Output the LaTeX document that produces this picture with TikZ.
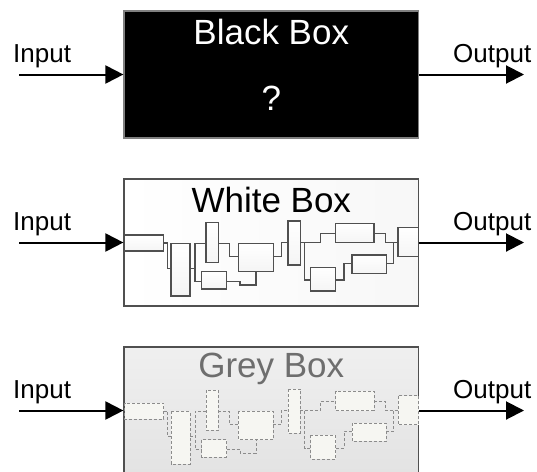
\documentclass[tikz,border=0pt]{standalone}
\usepackage{fontspec}
\setmainfont{Liberation Sans}
\usetikzlibrary{arrows.meta}
\definecolor{boxedge}{HTML}{505050}
\definecolor{greytext}{HTML}{6E6E6E}
\definecolor{greyline}{HTML}{8C8C8C}
\definecolor{cellfill}{HTML}{F6F6F2}
\tikzset{
  lbl/.style={anchor=base west, inner sep=0pt, font=\fontsize{26}{26}\selectfont},
  ttl/.style={anchor=base, inner sep=0pt, font=\fontsize{35}{35}\selectfont},
  bigbox/.style={rectangle, minimum width=294.5pt, minimum height=127pt, inner sep=0pt, line width=1.2pt},
  arr/.style={line width=2pt, -{Triangle[length=18pt,width=18pt]}},
  cell/.style={draw=boxedge, line width=1.1pt, top color=white, bottom color=gray!8},
  wire/.style={draw=boxedge, line width=1.1pt},
}
\newcommand\mycircuit{%
  \path[cell] (124.5,235) rectangle (163.7,251);
  \path[cell] (171,243.3) rectangle (190,296);
  \path[cell] (206,222.3) rectangle (218.3,262.3);
  \path[cell] (201.7,271.7) rectangle (226.7,289);
  \path[cell] (238.3,243.3) rectangle (273.3,271.7);
  \path[cell] (288,221) rectangle (300.3,265);
  \path[cell] (335.7,223.3) rectangle (374,242.7);
  \path[cell] (310.7,267.3) rectangle (335.7,291);
  \path[cell] (352,255) rectangle (386.3,273.3);
  \path[cell] (398,227.7) rectangle (418.7,256.7);
  \path[wire] (163.7,243) -- (167.7,243) -- (167.7,268.3) -- (171,268.3);
  \path[wire] (190,268.3) -- (195,268.3);
  \path[wire] (206,243.3) -- (195,243.3) -- (195,281.7) -- (201.7,281.7);
  \path[wire] (218.3,243.3) -- (229.3,243.3) -- (229.3,256.7) -- (238.3,256.7);
  \path[wire] (226.7,281.7) -- (240,281.7) -- (240,285) -- (256,285) -- (256,271.7);
  \path[wire] (273.3,256.7) -- (281.3,256.7) -- (281.3,242.7) -- (288,242.7);
  \path[wire] (300.3,242.7) -- (320.3,242.7) -- (320.3,233.3) -- (335.7,233.3);
  \path[wire] (304.7,242.7) -- (304.7,280) -- (310.7,280);
  \path[wire] (374,233.3) -- (385.7,233.3) -- (385.7,242.7) -- (398,242.7);
  \path[wire] (335.7,280) -- (344,280) -- (344,263.3) -- (352,263.3);
  \path[wire] (386.3,263.3) -- (393.7,263.3) -- (393.7,242.7);
}
\begin{document}
\begin{tikzpicture}[x=1pt,y=-1pt]
\useasboundingbox (0,0) rectangle (537,471);
\clip (0,0) rectangle (537,471);
\fill[white] (0,0) rectangle (537,471);
% ---------- Black box ----------
\node[bigbox, draw=gray, fill=black] (bb) at (271.25,74.5) {};
\node[ttl, text=white] (bbt) at (271.25,44) {Black Box};
\node[ttl, text=white] (bbq) at (271.25,110) {?};
\coordinate (in1) at (19,74.5);
\coordinate (out1) at (524,74.5);
\node[lbl] (inl1) at (13,62) {Input};
\node[lbl] (outl1) at (453,62) {Output};
\draw[arr] (in1) -- (bb.west);
\draw[arr] (bb.east) -- (out1);
% ---------- White box ----------
\node[bigbox, draw=boxedge, left color=white, right color=gray!6] (wb) at (271.25,242.5) {};
\mycircuit
\node[ttl] (wbt) at (271.25,212) {White Box};
\coordinate (in2) at (19,242.5);
\coordinate (out2) at (524,242.5);
\node[lbl] (inl2) at (13,230) {Input};
\node[lbl] (outl2) at (453,230) {Output};
\draw[arr] (in2) -- (wb.west);
\draw[arr] (wb.east) -- (out2);
% ---------- Grey box ----------
\node[bigbox, draw=boxedge, top color=gray!12, bottom color=gray!22] (gb) at (271.25,410.5) {};
\begin{scope}[shift={(0,168)},
  cell/.style={draw=greyline, line width=0.9pt, densely dashed, fill=cellfill},
  wire/.style={draw=greyline, line width=0.9pt, densely dashed}]
\mycircuit
\end{scope}
\node[ttl, text=greytext] (gbt) at (271.25,377) {Grey Box};
\coordinate (in3) at (19,410.5);
\coordinate (out3) at (524,410.5);
\node[lbl] (inl3) at (13,398) {Input};
\node[lbl] (outl3) at (453,398) {Output};
\draw[arr] (in3) -- (gb.west);
\draw[arr] (gb.east) -- (out3);
\end{tikzpicture}
\end{document}
